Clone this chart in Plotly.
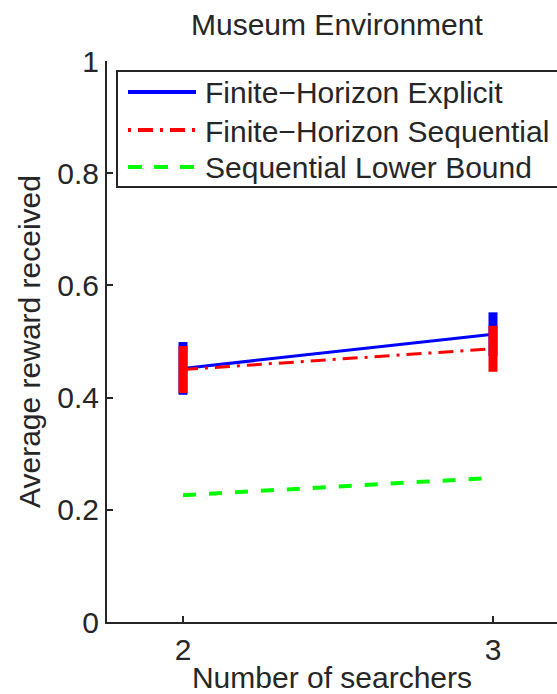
import plotly.graph_objects as go

# ---- data ----
searchers = [2, 3]
explicit_mean = [0.452, 0.513]
explicit_err = [0.047, 0.039]
sequential_mean = [0.450, 0.487]
sequential_err = [0.042, 0.041]
lower_bound = [0.226, 0.257]
series_names = ["Finite\u2212Horizon Explicit", "Finite\u2212Horizon Sequential", "Sequential Lower Bound"]
y_ticks = [0, 0.2, 0.4, 0.6, 0.8, 1]
x_ticks = [2, 3]

W, H = 557, 694
L, R, T, B = 107, 0, 61, 72
PW, PH = W - L - R, H - T - B
FONT = "Liberation Sans, Arial, Helvetica, sans-serif"
TXT = "#262626"
px_per_unit = 310
x0 = 2 - (183 - L) / px_per_unit
x1 = x0 + PW / px_per_unit


def px(x):
    return (x - L) / PW


def py(y):
    return (H - B - y) / PH


fig = go.Figure()
fig.add_trace(go.Scatter(
    x=searchers, y=explicit_mean, mode="lines",
    line=dict(color="#0000ff", width=3),
    error_y=dict(type="data", array=explicit_err, color="#0000ff", thickness=9, width=0),
    showlegend=False))
fig.add_trace(go.Scatter(
    x=searchers, y=sequential_mean, mode="lines",
    line=dict(color="#ff0000", width=3, dash="15px,7px,3px,7px"),
    error_y=dict(type="data", array=sequential_err, color="#ff0000", thickness=9, width=0),
    showlegend=False))
fig.add_trace(go.Scatter(
    x=searchers, y=lower_bound, mode="lines",
    line=dict(color="#00ff00", width=4, dash="13px,13px"),
    showlegend=False))

# manual legend (box is clipped by the right edge like the reference)
shapes = [dict(type="rect", xref="paper", yref="paper",
               x0=px(117), x1=px(600), y0=py(187), y1=py(71),
               line=dict(color=TXT, width=2), fillcolor="white", layer="above")]
legend_rows = [92, 130, 167]
legend_styles = [dict(color="#0000ff", width=4, dash="solid"),
                 dict(color="#ff0000", width=4, dash="3px,7px,15px,7px"),
                 dict(color="#00ff00", width=4, dash="14px,12px")]
annotations = []
for name, ry, st in zip(series_names, legend_rows, legend_styles):
    shapes.append(dict(type="line", xref="paper", yref="paper",
                       x0=px(128), x1=px(196), y0=py(ry), y1=py(ry),
                       line=st, layer="above"))
    annotations.append(dict(text=name, xref="paper", yref="paper",
                            x=px(203), y=py(ry + 1), xanchor="left", yanchor="middle",
                            showarrow=False, font=dict(family=FONT, size=30, color=TXT)))

annotations.append(dict(text="Museum Environment", xref="paper", yref="paper",
                        x=px(337), y=py(25), xanchor="center", yanchor="middle",
                        showarrow=False, font=dict(family=FONT, size=30, color=TXT)))

fig.update_layout(
    width=W, height=H,
    margin=dict(l=L, r=R, t=T, b=B, autoexpand=False),
    paper_bgcolor="white", plot_bgcolor="white",
    font=dict(family=FONT, size=30, color=TXT),
    shapes=shapes, annotations=annotations,
    xaxis=dict(range=[x0, x1], tickvals=x_ticks, ticks="inside", ticklen=6,
               tickwidth=2, tickcolor=TXT, showline=True, linecolor=TXT, linewidth=2,
               showgrid=False, zeroline=False, mirror=False,
               title=dict(text="Number of searchers", font=dict(size=30), standoff=2),
               tickfont=dict(size=30)),
    yaxis=dict(range=[0, 1], tickvals=y_ticks, ticks="inside", ticklen=6,
               tickwidth=2, tickcolor=TXT, showline=True, linecolor=TXT, linewidth=2,
               showgrid=False, zeroline=False, mirror=False,
               title=dict(text="Average reward received", font=dict(size=30), standoff=8),
               tickfont=dict(size=30)),
)

fig.write_html("out.html")
